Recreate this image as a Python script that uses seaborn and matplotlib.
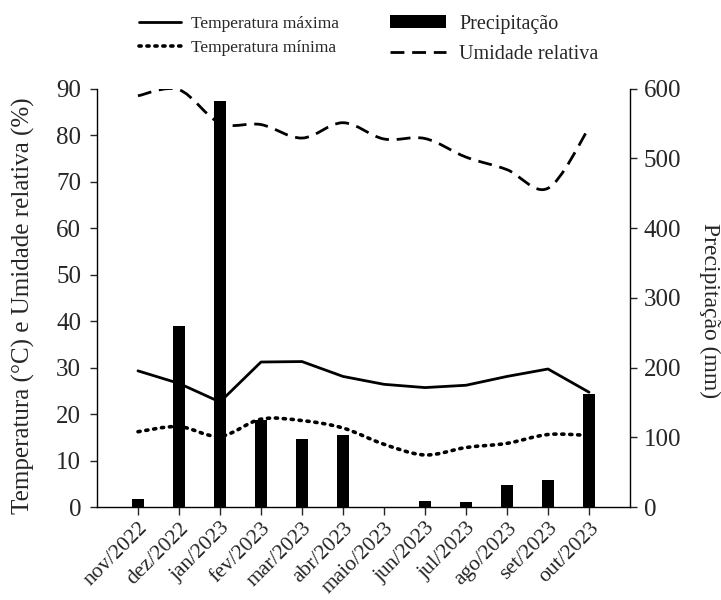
import matplotlib
matplotlib.use("Agg")
import matplotlib.pyplot as plt
from matplotlib.lines import Line2D
from matplotlib.patches import Patch, PathPatch
from matplotlib.path import Path
import numpy as np
import pandas as pd
import seaborn as sns

# Monthly climate series (Nov/2022 - Oct/2023)
meses = ["nov/2022", "dez/2022", "jan/2023", "fev/2023", "mar/2023", "abr/2023",
         "maio/2023", "jun/2023", "jul/2023", "ago/2023", "set/2023", "out/2023"]
temp_max = [29.3, 26.6, 22.6, 31.2, 31.3, 28.1, 26.4, 25.7, 26.2, 28.1, 29.7, 24.7]
temp_min = [16.2, 17.3, 15.2, 18.9, 18.6, 17.0, 13.5, 11.2, 12.8, 13.7, 15.6, 15.4]
umidade = [88.5, 89.8, 82.6, 82.3, 79.4, 82.7, 79.2, 79.3, 75.3, 72.6, 68.6, 81.6]
precipitacao = [12, 260, 583, 125, 97, 103, 0, 9, 7, 32, 39, 162]

ticks_temp = [0, 10, 20, 30, 40, 50, 60, 70, 80, 90]
ticks_prec = [0, 100, 200, 300, 400, 500, 600]

df = pd.DataFrame({
    "mes": meses,
    "tmax": temp_max,
    "tmin": temp_min,
    "ur": umidade,
    "prec": precipitacao,
})

DOTS = (0, (0.6, 1.6))
DASHES = (0, (5, 2.8))


def smooth_path(xs, ys):
    """Cubic Bezier path passing through every (x, y) pair (Catmull-Rom tangents)."""
    pts = np.column_stack([xs, ys]).astype(float)
    ext = np.vstack([pts[0], pts, pts[-1]])
    verts = [pts[0]]
    codes = [Path.MOVETO]
    for i in range(len(pts) - 1):
        p0, p1, p2, p3 = ext[i], ext[i + 1], ext[i + 2], ext[i + 3]
        c1 = p1 + (p2 - p0) / 6.0
        c2 = p2 - (p3 - p1) / 6.0
        verts += [c1, c2, p2]
        codes += [Path.CURVE4] * 3
    return Path(verts, codes)


sns.set_theme(style="ticks")
plt.rcParams["font.family"] = ["Liberation Serif", "DejaVu Serif"]
plt.rcParams["axes.linewidth"] = 1.0
plt.rcParams["xtick.major.width"] = 1.0
plt.rcParams["ytick.major.width"] = 1.0
plt.rcParams["xtick.major.size"] = 6
plt.rcParams["ytick.major.size"] = 5
plt.rcParams["axes.edgecolor"] = "black"

fig = plt.figure(figsize=(7.21, 6.0), dpi=100)
ax = fig.add_axes([0.1345, 0.155, 0.7393, 0.697])
ax2 = ax.twinx()

# precipitation bars on the right axis
sns.barplot(data=df, x="mes", y="prec", ax=ax2, color="black", saturation=1,
            width=0.28, edgecolor="none", linewidth=0, zorder=3)

# maximum temperature: straight segments
sns.lineplot(data=df, x="mes", y="tmax", ax=ax, color="black", lw=2.0,
             sort=False)

# minimum temperature and relative humidity: smoothed curves
pos = np.arange(len(meses))
ax.add_patch(PathPatch(smooth_path(pos, df["tmin"]), fill=False,
                       edgecolor="black", lw=2.6, linestyle=DOTS,
                       capstyle="round"))
ax.add_patch(PathPatch(smooth_path(pos, df["ur"]), fill=False,
                       edgecolor="black", lw=2.0, linestyle=DASHES,
                       capstyle="butt"))

ax.set_ylim(0, 90)
ax2.set_ylim(0, 600)
ax.set_xlim(-1, 12)
ax.set_yticks(ticks_temp)
ax2.set_yticks(ticks_prec)
ax.set_xticks(pos)
ax.set_xticklabels(meses, rotation=45, ha="right", rotation_mode="anchor",
                   fontsize=15.5)
ax.tick_params(axis="y", labelsize=18, direction="out", pad=6.5)
ax.tick_params(axis="x", direction="out", pad=2.5)
ax2.tick_params(axis="y", labelsize=18, direction="out", pad=5)

ax.set_xlabel("")
ax.set_ylabel("Temperatura (°C) e Umidade relativa (%)", fontsize=18)
ax2.set_ylabel("Precipitação (mm)", fontsize=17, rotation=270)
ax.yaxis.label.set_verticalalignment("center")
ax2.yaxis.label.set_verticalalignment("center")
ax.yaxis.set_label_coords(-0.137, 0.482)
ax2.yaxis.set_label_coords(1.15, 0.469)

for a in (ax, ax2):
    a.spines["top"].set_visible(False)
ax.spines["right"].set_visible(False)
ax2.spines["left"].set_visible(False)
ax2.spines["bottom"].set_visible(False)

# legends above the plot
fig.legend(
    handles=[Line2D([], [], color="black", lw=2.0),
             Line2D([], [], color="black", lw=2.6, linestyle=DOTS,
                    dash_capstyle="round")],
    labels=["Temperatura máxima", "Temperatura mínima"],
    loc="upper left", bbox_to_anchor=(0.188, 0.98), frameon=False,
    fontsize=12.5, handlelength=2.4, handletextpad=0.6, labelspacing=0.5,
    borderpad=0.2, borderaxespad=0)
fig.legend(
    handles=[Patch(facecolor="black", edgecolor="none"),
             Line2D([], [], color="black", lw=2.0, linestyle=DASHES)],
    labels=["Precipitação", "Umidade relativa"],
    loc="upper left", bbox_to_anchor=(0.535, 0.982), frameon=False,
    fontsize=14.5, handlelength=2.8, handleheight=0.65, handletextpad=0.65,
    labelspacing=0.55, borderpad=0.2, borderaxespad=0)

fig.savefig("out.png", dpi=100)
